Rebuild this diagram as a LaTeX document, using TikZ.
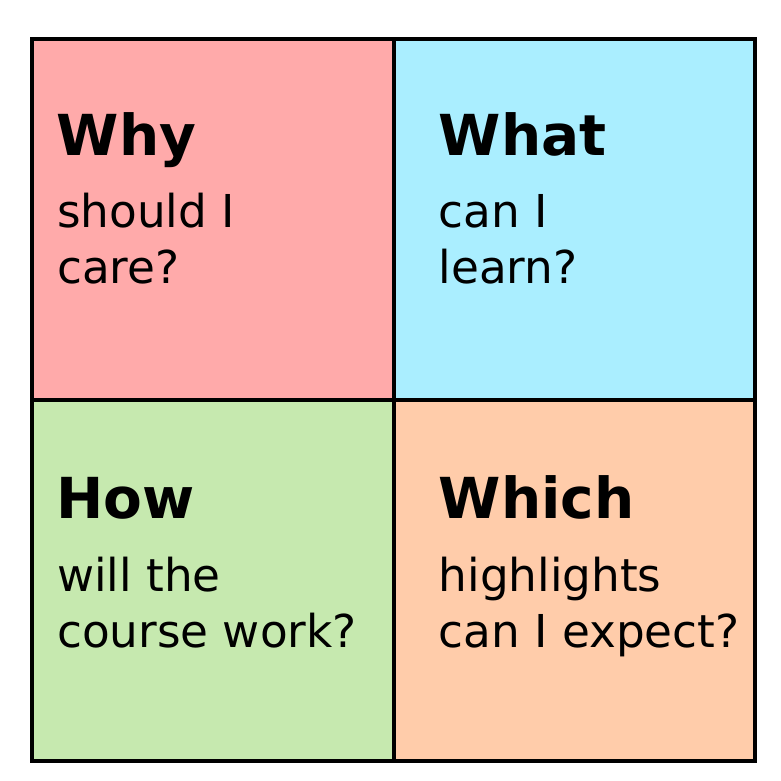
\documentclass[tikz,border=0pt]{standalone}
\usepackage{fontspec}
\setmainfont{DejaVu Sans}
\usetikzlibrary{positioning}
\definecolor{whyred}{HTML}{FFAAAA}
\definecolor{whatblue}{HTML}{AAEEFF}
\definecolor{howgreen}{HTML}{C6E9AF}
\definecolor{whichorange}{HTML}{FFCCAA}
\tikzset{
  head/.style={anchor=base west, inner sep=0pt, font=\fontsize{56.5}{65}\selectfont\bfseries},
  sub/.style={anchor=base west, inner sep=0pt, align=left, font=\fontsize{45.3}{55.5}\selectfont}}

\begin{document}
\begin{tikzpicture}[x=1pt,y=-1pt]
  \useasboundingbox (0,0) rectangle (781,781);
    \coordinate (tl) at (32,39);
    \coordinate (tm) at (394,39);
    \coordinate (tr) at (755,39);
    \coordinate (ml) at (32,400);
    \coordinate (mm) at (394,400);
    \coordinate (mr) at (755,400);
    \coordinate (bl) at (32,761);
    \coordinate (bm) at (394,761);
    \coordinate (br) at (755,761);
         \fill [whyred] (tl) rectangle (mm);
         \fill [whatblue] (tm) rectangle (mr);
         \fill [howgreen] (ml) rectangle (bm);
         \fill [whichorange] (mm) rectangle (br);
    \draw [line width=4.5pt] (tl) rectangle (br);
    \draw [line width=4.5pt] (tm) -- (bm);
    \draw [line width=4.5pt] (ml) -- (mr);
  % quadrant texts (base = last line)
    \node [head] (why) at (56.5,155) {Why};
    \node [sub] (whysub) at (57,283) {should I\\care?};
    \node [head] (what) at (438.5,155) {What};
    \node [sub] (whatsub) at (438.5,283) {can I\\learn?};
    \node [head] (how) at (56.5,518) {How};
    \node [sub] (howsub) at (57,647) {will the\\course work?};
    \node [head] (which) at (438.5,518) {Which};
    \node [sub] (whichsub) at (438.5,647) {highlights\\can I expect?};
\end{tikzpicture}
\end{document}
